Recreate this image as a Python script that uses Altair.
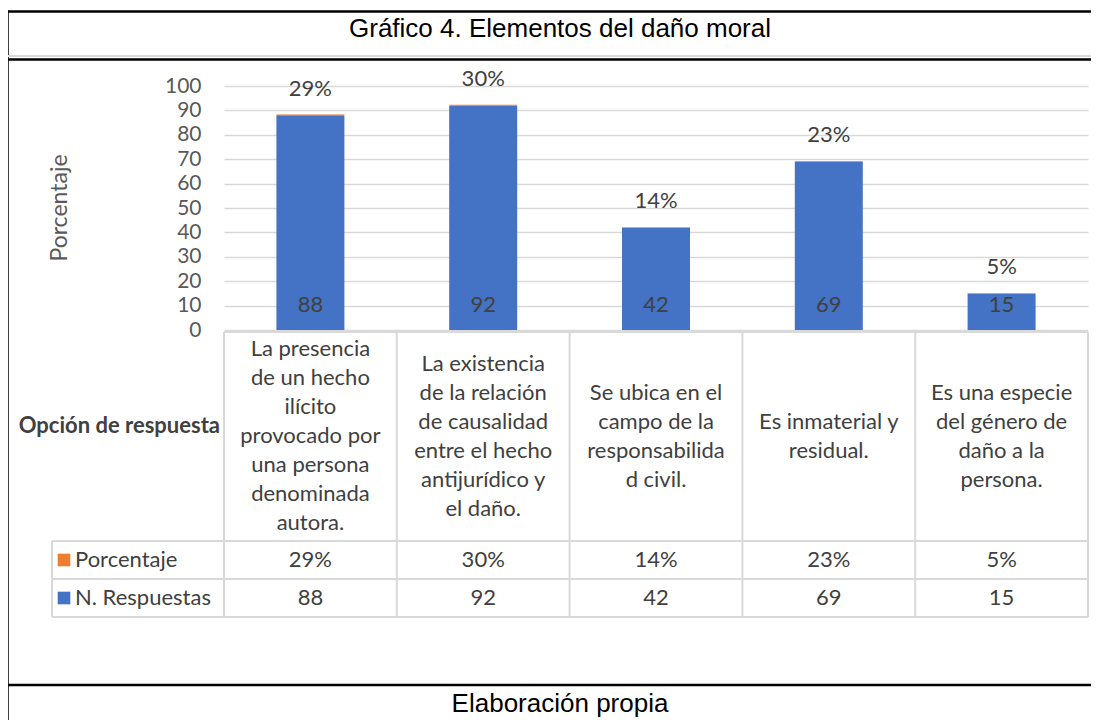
import altair as alt
import pandas as pd

categories = [
    "La presencia\nde un hecho\nilícito\nprovocado por\nuna persona\ndenominada\nautora.",
    "La existencia\nde la relación\nde causalidad\nentre el hecho\nantijurídico y\nel daño.",
    "Se ubica en el\ncampo de la\nresponsabilida\nd civil.",
    "Es inmaterial y\nresidual.",
    "Es una especie\ndel género de\ndaño a la\npersona.",
]
counts = [88, 92, 42, 69, 15]
pcts = [0.29, 0.30, 0.14, 0.23, 0.05]
series = ["Porcentaje", "N. Respuestas"]
series_colors = ["#ED7D31", "#4472C4"]
y_ticks = list(range(0, 101, 10))

df = pd.DataFrame({"cat": categories, "count": counts, "pct": pcts})
df["nlines"] = [c.count("\n") + 1 for c in categories]
leg = pd.DataFrame({"serie": series, "color": series_colors})
one = pd.DataFrame({"k": [0]})

FONT = "Lato"
FS = 22
TXT = "#404040"
GRID = "#d9d9d9"
LH = 29

yscale = alt.Scale(domain=[0, 100], nice=False)
yaxis = alt.Axis(values=y_ticks, tickCount=11, grid=True, gridColor=GRID, gridWidth=1.5,
                 domain=False, ticks=False, labelFontSize=21,
                 labelColor="#595959", labelFont=FONT, labelPadding=23,
                 labelOverlap=False, title=None)

base = alt.Chart(df).transform_calculate(top="datum.count + datum.pct")
xenc = alt.X("cat:N", sort=None, axis=None,
             scale=alt.Scale(paddingInner=0, paddingOuter=0))

bars = base.mark_bar(width=68, color=series_colors[1]).encode(
    x=xenc, y=alt.Y("count:Q", scale=yscale, axis=yaxis))
orange = base.mark_bar(width=68, color=series_colors[0]).encode(
    x=xenc, y=alt.Y("count:Q", scale=yscale, axis=yaxis), y2="top:Q")
count_lbl = base.mark_text(dy=-25, fontSize=FS, font=FONT, color=TXT).encode(
    x=xenc, y=alt.Y(datum=0, scale=yscale, axis=yaxis), text="count:Q")
pct_lbl = base.mark_text(dy=-26, fontSize=FS, font=FONT, color=TXT).encode(
    x=xenc, y=alt.Y("top:Q", scale=yscale, axis=yaxis),
    text=alt.Text("pct:Q", format=".0%"))

cat_layers = []
for n in sorted(set(df["nlines"])):
    cat_layers.append(
        base.transform_filter(f"datum.nlines == {n}").mark_text(
            lineBreak="\n", lineHeight=LH, baseline="middle",
            fontSize=FS, font=FONT, color=TXT).encode(
            x=xenc, y=alt.value(350 - (n - 1) * LH / 2), text="cat:N"))

row_pct = base.mark_text(fontSize=FS, font=FONT, color=TXT).encode(
    x=xenc, y=alt.value(474), text=alt.Text("pct:Q", format=".0%"))
row_cnt = base.mark_text(fontSize=FS, font=FONT, color=TXT).encode(
    x=xenc, y=alt.value(512), text="count:Q")

def hrule(x1, x2, y, color=GRID, w=2):
    return alt.Chart(one).mark_rule(color=color, strokeWidth=w).encode(
        x=alt.value(x1), x2=alt.value(x2), y=alt.value(y))

def vrule(x, y1, y2, color=GRID, w=2):
    return alt.Chart(one).mark_rule(color=color, strokeWidth=w).encode(
        x=alt.value(x), y=alt.value(y1), y2=alt.value(y2))

table_lines = [hrule(0, 864, 246), hrule(-172, 864, 455), hrule(-172, 864, 493),
               hrule(-172, 864, 531)]
for xv in [0, 172.8, 345.6, 518.4, 691.2, 864]:
    table_lines.append(vrule(xv, 246, 531))
table_lines.append(vrule(-172, 455, 531))

frame = [
    vrule(-216.5, -75, 650, color="black", w=2.5),
    hrule(-218, 880, -74.5, color="black", w=2.5),
    hrule(-216, 880, -30, color="#d9d9d9", w=2),
    hrule(-216, 880, -26.5, color="black", w=2.5),
    hrule(-216, 880, 599, color="black", w=2.5),
]

texts = alt.Chart(one).mark_text(fontSize=26, font="Liberation Sans", color="black")
title_t = texts.encode(x=alt.value(336), y=alt.value(-57),
                       text=alt.value("Gráfico 4. Elementos del daño moral"))
foot_t = texts.encode(x=alt.value(336), y=alt.value(618),
                      text=alt.value("Elaboración propia"))
ytitle = alt.Chart(one).mark_text(angle=270, fontSize=23, font=FONT,
                                  color="#595959").encode(
    x=alt.value(-164), y=alt.value(122), text=alt.value("Porcentaje"))
opcion = alt.Chart(one).mark_text(align="right", fontSize=FS, font=FONT, fontWeight="bold",
                                  color=TXT).encode(
    x=alt.value(-4), y=alt.value(340), text=alt.value("Opción de respuesta"))

leg_layers = []
for s, yv in zip(series, [474, 512]):
    sub = alt.Chart(leg).transform_filter(alt.datum.serie == s)
    leg_layers.append(sub.mark_square(size=160, opacity=1).encode(
        x=alt.value(-160), y=alt.value(yv), color=alt.Color("color:N", scale=None)))
    leg_layers.append(sub.mark_text(align="left", fontSize=FS, font=FONT, color=TXT).encode(
        x=alt.value(-149), y=alt.value(yv), text="serie:N"))

chart = alt.layer(
    bars, orange, count_lbl, pct_lbl, *cat_layers, row_pct, row_cnt,
    *table_lines, *frame, title_t, foot_t, ytitle, opcion, *leg_layers
).properties(
    width=864, height=244,
    autosize=alt.AutoSizeParams(type="none"),
    padding={"left": 216, "top": 78, "right": 3, "bottom": 390},
    background="white",
).configure_view(stroke=None)

chart.save("out.html", embed_options={"renderer": "svg", "actions": False})
